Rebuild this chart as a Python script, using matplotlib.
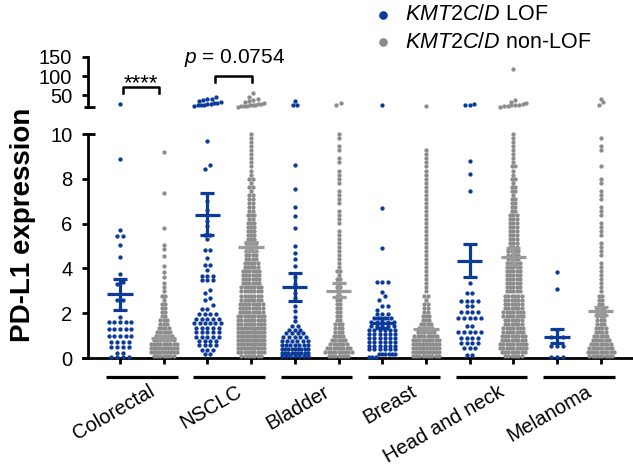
import numpy as np
import matplotlib
matplotlib.use("Agg")
import matplotlib.pyplot as plt
from matplotlib.lines import Line2D
import matplotlib.transforms as mtransforms

plt.rcParams["font.family"] = ["Liberation Sans", "DejaVu Sans"]
plt.rcParams["mathtext.fontset"] = "custom"
plt.rcParams["mathtext.it"] = "Liberation Sans:italic"
plt.rcParams["mathtext.rm"] = "Liberation Sans"

BLUE = "#0b3a9a"
GREY = "#8c8c8c"
GREY_BAR = "#9a9a9a"

CANCERS = ["Colorectal", "NSCLC", "Bladder", "Breast", "Head and neck", "Melanoma"]

# mean and SEM (lower axis units)
MEAN_LOF = [2.86, 6.38, 3.18, 1.56, 4.34, 0.95]
SEM_LO_LOF = [2.14, 5.49, 2.54, 1.34, 3.63, 0.68]
SEM_HI_LOF = [3.53, 7.37, 3.78, 1.78, 5.07, 1.29]
MEAN_NON = [0.89, 4.97, 3.00, 1.29, 4.52, 2.11]
SEM_LO_NON = [0.80, 4.79, 2.72, 1.22, 4.15, 1.92]
SEM_HI_NON = [0.98, 5.19, 3.35, 1.36, 4.90, 2.29]

# LOF groups: (value, number of points at that value)
crc_lof = [(8.9, 1), (5.7, 1), (5.45, 2), (5.05, 1), (4.5, 1), (3.75, 1), (3.4, 1), (3.3, 1),
           (2.6, 2), (1.85, 1), (1.62, 5), (1.3, 5), (1.0, 5), (0.73, 4), (0.5, 4), (0.22, 2),
           (0.05, 4)]
nsclc_lof = [(9.7, 1), (8.6, 1), (8.45, 1), (7.0, 1), (6.6, 1), (6.1, 1), (5.9, 1), (5.5, 2),
             (5.3, 1), (4.8, 2), (4.45, 1), (4.15, 2), (3.95, 1), (3.68, 3), (3.48, 3), (3.05, 1),
             (2.9, 1), (2.7, 1), (2.58, 1), (2.35, 1), (2.2, 2), (1.95, 4), (1.75, 5), (1.55, 6),
             (1.35, 5), (1.15, 5), (0.95, 5), (0.75, 4), (0.57, 4), (0.37, 3), (0.17, 2)]
bladder_lof = [(8.6, 1), (7.55, 1), (6.75, 1), (6.35, 1), (5.8, 1), (5.0, 1), (4.7, 1), (4.4, 1),
               (4.1, 1), (3.6, 1), (3.3, 1), (2.9, 1), (2.7, 1), (2.3, 1), (2.1, 1), (1.85, 1),
               (1.65, 1), (1.45, 2), (1.27, 3), (1.1, 4), (0.92, 5), (0.75, 6), (0.58, 7),
               (0.41, 9), (0.24, 9), (0.07, 7)]
breast_lof = [(6.7, 1), (4.9, 1), (3.38, 3), (2.95, 1), (2.75, 1), (2.6, 1), (2.3, 2), (2.15, 1),
              (1.95, 3), (1.78, 4), (1.6, 5), (1.42, 5), (1.25, 6), (1.08, 6), (0.9, 6),
              (0.72, 6), (0.55, 6), (0.38, 6), (0.2, 6), (0.05, 3)]
hn_lof = [(8.8, 1), (8.2, 1), (7.45, 1), (3.36, 1), (2.92, 2), (2.55, 4), (2.32, 2), (2.05, 4),
          (1.8, 5), (1.45, 2), (1.15, 5), (0.9, 4), (0.67, 4), (0.45, 3), (0.13, 2)]
mel_lof = [(3.85, 1), (3.1, 1), (1.25, 1), (0.93, 3), (0.54, 3), (0.06, 3)]

# non-LOF groups: points per row, rows read at these levels
ROWS = [0.09, 0.27, 0.45, 0.63, 0.81, 0.99, 1.17, 1.35, 1.53, 1.71, 1.89, 2.07, 2.25, 2.43,
        2.61, 2.79, 2.97, 3.15, 3.33, 3.51, 3.69, 3.87, 4.05, 4.23, 4.41, 4.59, 4.77, 4.95,
        5.13, 5.31, 5.49, 5.67, 5.85, 6.03, 6.21, 6.39, 6.57, 6.75, 6.93, 7.11, 7.29, 7.47,
        7.65, 7.83, 8.01, 8.19, 8.37, 8.55, 8.73, 8.91, 9.09, 9.27, 9.45, 9.63, 9.81, 9.99]
crc_non_cnt = [7, 10, 10, 9, 7, 6, 5, 4, 3, 3, 2, 2, 2, 2, 1, 2, 1, 1, 1, 0,
               0, 0, 0, 0, 0, 0, 0, 0, 0, 0, 0, 0, 0, 0, 0, 0, 0, 0, 0, 0,
               0, 0, 0, 0, 0, 0, 0, 0, 0, 0, 0, 0, 0, 0, 0, 0]
crc_non_extra = [3.6, 3.85, 4.1, 4.55, 4.88, 5.06, 5.8, 7.35, 9.2]
nsclc_non_cnt = [7, 9, 10, 10, 11, 11, 10, 10, 9, 9, 9, 8, 8, 8, 7, 7, 7, 7, 6, 6,
                 6, 6, 5, 5, 4, 4, 4, 4, 4, 3, 3, 3, 3, 3, 2, 3, 2, 2, 2, 2,
                 2, 1, 2, 1, 2, 1, 1, 1, 1, 1, 1, 1, 1, 1, 1, 1]
bladder_non_cnt = [7, 9, 8, 6, 5, 4, 3, 3, 3, 2, 2, 2, 2, 2, 2, 2, 2, 2, 2, 2,
                   1, 2, 1, 1, 1, 1, 1, 1, 1, 1, 1, 1, 0, 1, 1, 1, 1, 0, 1, 1,
                   1, 1, 0, 1, 1, 1, 1, 0, 1, 1, 0, 1, 1, 0, 1, 1]
breast_non_cnt = [9, 10, 10, 10, 9, 8, 6, 5, 4, 3, 3, 2, 2, 2, 1, 2, 1, 1, 1, 1,
                  1, 1, 1, 1, 1, 1, 1, 1, 1, 1, 1, 1, 1, 1, 1, 1, 1, 1, 1, 1,
                  1, 1, 1, 1, 1, 1, 1, 1, 1, 1, 1, 1, 0, 0, 0, 0]
hn_non_cnt = [6, 8, 9, 9, 8, 8, 7, 7, 6, 6, 7, 7, 6, 6, 6, 6, 5, 5, 5, 5,
              5, 5, 5, 5, 4, 4, 4, 3, 3, 3, 3, 3, 3, 3, 3, 3, 2, 2, 2, 2,
              1, 2, 2, 1, 2, 1, 1, 2, 1, 1, 1, 1, 1, 1, 1, 1]
mel_non_cnt = [8, 9, 8, 7, 6, 5, 4, 4, 3, 3, 3, 3, 3, 2, 2, 2, 1, 1, 1, 1,
               1, 1, 1, 1, 0, 1, 1, 1, 1, 0, 1, 1, 1, 1, 0, 1, 1, 1, 0, 1,
               1, 1, 0, 1, 1, 0, 0, 1, 0, 0, 0, 1, 1, 0, 1, 0]

# points above the axis break (upper axis units)
crc_lof_hi = [28]
nsclc_lof_hi = [45, 42, 40, 38, 36, 33, 31, 30, 28, 27, 26, 25, 24, 23]
nsclc_non_hi = [56, 47, 41, 38, 35, 33, 30, 29, 27, 26, 25, 24, 23, 22, 22, 21]
bladder_lof_hi = [36, 26, 24]
bladder_non_hi = [31, 24]
breast_lof_hi = [25]
breast_non_hi = [23]
hn_lof_hi = [29, 26, 24]
hn_non_hi = [120, 37, 33, 30, 28, 26, 25, 24, 23, 22, 21]
mel_lof_hi = []
mel_non_hi = [42, 32, 24]


def expand(pairs):
    return np.repeat([p[0] for p in pairs], [p[1] for p in pairs])


def from_rows(cnt, extra=()):
    return np.concatenate([np.repeat(ROWS, cnt), np.asarray(extra, float)])


LOF_LOW = [expand(g) for g in (crc_lof, nsclc_lof, bladder_lof, breast_lof, hn_lof, mel_lof)]
NON_LOW = [from_rows(crc_non_cnt, crc_non_extra), from_rows(nsclc_non_cnt),
           from_rows(bladder_non_cnt), from_rows(breast_non_cnt),
           from_rows(hn_non_cnt), from_rows(mel_non_cnt)]
LOF_HIGH = [crc_lof_hi, nsclc_lof_hi, bladder_lof_hi, breast_lof_hi, hn_lof_hi, mel_lof_hi]
NON_HIGH = [[], nsclc_non_hi, bladder_non_hi, breast_non_hi, hn_non_hi, mel_non_hi]


def swarm(values, h, step, wmax=0.6):
    v = np.sort(np.asarray(values, float))
    xs = np.zeros_like(v)
    start = 0
    while start < len(v):
        end = start
        while end + 1 < len(v) and v[end + 1] - v[start] < h:
            end += 1
        n = end - start + 1
        sp = step if n == 1 else min(step, wmax / (n - 1))
        xs[start:end + 1] = (np.arange(n) - (n - 1) / 2) * sp
        start = end + 1
    return xs, v


W, H = 633, 469
fig = plt.figure(figsize=(W / 100, H / 100), dpi=100)
ax = fig.add_axes([83 / W, 1 - 358 / H, 549 / W, 224 / H])
axu = fig.add_axes([83 / W, 1 - 107 / H, 549 / W, 50 / H])
XL = (-0.847, 11.716)
SPX = 5 / 549
PT = 9.6

for a in (ax, axu):
    a.set_xlim(*XL)
    a.spines[["top", "right"]].set_visible(False)
    a.spines["left"].set_position(("axes", SPX))
    a.spines["left"].set_linewidth(2)
    a.tick_params(axis="y", direction="out", length=4.3, width=2, pad=7, labelsize=14.5)
    a.patch.set_visible(False)

ax.set_ylim(0, 10)
ax.set_yticks([0, 2, 4, 6, 8, 10])
ax.spines["bottom"].set_linewidth(2)
ax.set_xticks(range(12))
ax.tick_params(axis="x", direction="out", length=4.3, width=2, labelbottom=False)

axu.set_ylim(20, 150)
axu.set_yticks([50, 100, 150])
axu.spines["bottom"].set_visible(False)
axu.set_xticks([])

for g in range(6):
    for k, (lo, hi, col, stp) in enumerate(((LOF_LOW, LOF_HIGH, BLUE, 0.13),
                                            (NON_LOW, NON_HIGH, GREY, 0.075))):
        xc = 2 * g + k
        dx, vv = swarm(lo[g], 0.16, stp)
        ax.scatter(xc + dx, vv, s=PT, color=col, linewidths=0, clip_on=False, zorder=3)
        if len(hi[g]):
            dx, vv = swarm(hi[g], 11, 0.1)
            axu.scatter(xc + dx, vv, s=PT, color=col, linewidths=0, clip_on=False, zorder=3)

    for k, (m, lo_, hi_, col) in enumerate(((MEAN_LOF, SEM_LO_LOF, SEM_HI_LOF, BLUE),
                                            (MEAN_NON, SEM_LO_NON, SEM_HI_NON, GREY_BAR))):
        xc = 2 * g + k
        ax.hlines(m[g], xc - 0.29, xc + 0.29, color=col, lw=2.3, zorder=5)
        ax.vlines(xc, lo_[g], hi_[g], color=col, lw=2.3, zorder=5)
        ax.hlines([lo_[g], hi_[g]], xc - 0.16, xc + 0.16, color=col, lw=2.3, zorder=5)

# group underlines and category labels
tr = mtransforms.blended_transform_factory(ax.transData, ax.transAxes)
for g, name in enumerate(CANCERS):
    ax.plot([2 * g - 0.32, 2 * g + 1.32], [-0.085, -0.085], transform=tr, color="black",
            lw=2.3, clip_on=False, solid_capstyle="butt")
    ax.text(2 * g + 0.5 + 0.14, -0.107, name, transform=tr, rotation=30,
            rotation_mode="anchor", ha="right", va="top", fontsize=14.5)

# axis break marks
for a, yv, x0 in ((ax, 10, SPX), (axu, 20, SPX - 4 / 549)):
    trb = mtransforms.blended_transform_factory(a.transAxes, a.transData)
    a.plot([x0, SPX + 7 / 549], [yv, yv], transform=trb, color="black", lw=2,
           clip_on=False, solid_capstyle="butt")

# significance brackets
axu.plot([0.07, 0.07, 0.89, 0.89], [56, 72, 72, 56], color="black", lw=1.8, clip_on=False)
axu.text(0.48, 66, "****", ha="center", va="baseline", fontsize=16)
axu.plot([2.17, 2.17, 3.02, 3.02], [85, 100.5, 100.5, 85], color="black", lw=1.8, clip_on=False)
axu.text(2.63, 134, "$p$ = 0.0754", ha="center", va="baseline", fontsize=15, clip_on=False)

fig.text(23 / W, 1 - 225 / H, "PD-L1 expression", rotation=90, fontsize=20,
         fontweight="bold", ha="center", va="center")

# legend
for yy, col, lab in ((15, BLUE, "$\\it{KMT2C/D}$ LOF"), (42, GREY, "$\\it{KMT2C/D}$ non-LOF")):
    fig.add_artist(Line2D([383 / W], [1 - yy / H], marker="o", ms=5.2, color=col, lw=0,
                          transform=fig.transFigure))
    fig.text(405 / W, 1 - yy / H, lab, fontsize=15.5, ha="left", va="center")

fig.savefig("out.png", dpi=100)
